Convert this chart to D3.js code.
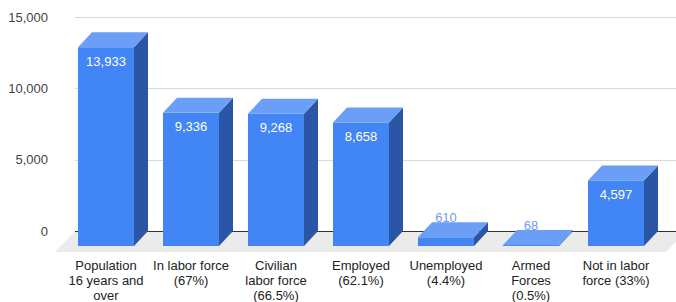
<!DOCTYPE html>
<html>
<head>
<meta charset="utf-8">
<style>
body { margin: 0; background: #fff; }
svg { font-family: Arial, "Liberation Sans", sans-serif; }
.axis path { display: none; }
.axis line { stroke: #d9d9d9; shape-rendering: crispEdges; }
.axis text { fill: #444; font-size: 13px; }
</style>
</head>
<body>
<script src="https://cdn.jsdelivr.net/npm/d3@7"></script>
<script>
var categories = ["pop", "inlf", "civ", "emp", "unemp", "armed", "notlf"];
var categoryLines = [
  ["Population", "16 years and", "over"],
  ["In labor force", "(67%)"],
  ["Civilian", "labor force", "(66.5%)"],
  ["Employed", "(62.1%)"],
  ["Unemployed", "(4.4%)"],
  ["Armed", "Forces", "(0.5%)"],
  ["Not in labor", "force (33%)"]
];
var values = [13933, 9336, 9268, 8658, 610, 68, 4597];
var yTicks = [0, 5000, 10000, 15000];

var width = 676, height = 302;
var depthX = 14, depthY = 15;
var left = 75, right = 676;

var svg = d3.select("body").append("svg")
    .attr("width", width)
    .attr("height", height);

// back plane scale (gridlines), front faces sit depthY lower
var y = d3.scaleLinear()
    .domain([0, 15000])
    .range([231, 17]);

var x = d3.scaleBand()
    .domain(categories)
    .range([63.5, 63.5 + 595])
    .paddingInner(29 / 85)
    .paddingOuter(29 / 170);

// floor
var fy0 = y(0), fy1 = y(0) + 21;
svg.append("path")
    .attr("d", "M" + left + "," + fy0 + "L" + (right + 10) + "," + fy0 +
               "L" + (right - 10) + "," + fy1 + "L" + (left - 20) + "," + fy1 + "Z")
    .style("fill", "#ebebeb");

var yAxis = d3.axisLeft(y)
    .tickValues(yTicks)
    .tickFormat(d3.format(","))
    .tickSizeInner(-(right - left))
    .tickPadding(27);

var ax = svg.append("g")
    .attr("class", "axis")
    .attr("transform", "translate(" + left + ",0)")
    .call(yAxis);
ax.selectAll(".tick line")
    .style("stroke", function(d) { return d === 0 ? "#333" : "#d9d9d9"; });

var bars = svg.selectAll(".bar")
    .data(categories)
  .enter().append("g")
    .attr("class", "bar");

bars.each(function(c, i) {
  var g = d3.select(this);
  var x0 = x(c), w = x.bandwidth();
  var yb = y(0) + depthY, yt = y(values[i]) + depthY;
  // side
  g.append("path")
      .attr("d", "M" + (x0 + w) + "," + yt + "L" + (x0 + w + depthX) + "," + (yt - depthY) +
                 "L" + (x0 + w + depthX) + "," + (yb - depthY) + "L" + (x0 + w) + "," + yb + "Z")
      .style("fill", "#2b56a6");
  // front
  g.append("rect")
      .attr("x", x0)
      .attr("y", yt)
      .attr("width", w)
      .attr("height", yb - yt)
      .style("fill", "#4285f4");
  // top
  g.append("path")
      .attr("d", "M" + x0 + "," + yt + "L" + (x0 + depthX) + "," + (yt - depthY) +
                 "L" + (x0 + w + depthX) + "," + (yt - depthY) + "L" + (x0 + w) + "," + yt + "Z")
      .style("fill", "#6b9ef6");
  var inside = (yb - yt) > 30;
  g.append("text")
      .attr("x", x0 + w / 2)
      .attr("y", inside ? yt + 18.5 : yt - depthY - 0.5)
      .style("text-anchor", "middle")
      .style("font-size", "13px")
      .style("fill", inside ? "#fff" : "#6b9ef6")
      .text(d3.format(",")(values[i]));
});

// category labels
svg.selectAll(".cat")
    .data(categories)
  .enter().append("text")
    .attr("class", "cat")
    .attr("x", function(d) { return x(d) + x.bandwidth() / 2; })
    .attr("y", 270)
    .style("text-anchor", "middle")
    .style("font-size", "13px")
    .style("fill", "#222")
    .each(function(d, i) {
      var t = d3.select(this);
      categoryLines[i].forEach(function(line, j) {
        t.append("tspan")
            .attr("x", x(d) + x.bandwidth() / 2)
            .attr("dy", j === 0 ? 0 : 15)
            .text(line);
      });
    });
</script>
</body>
</html>
